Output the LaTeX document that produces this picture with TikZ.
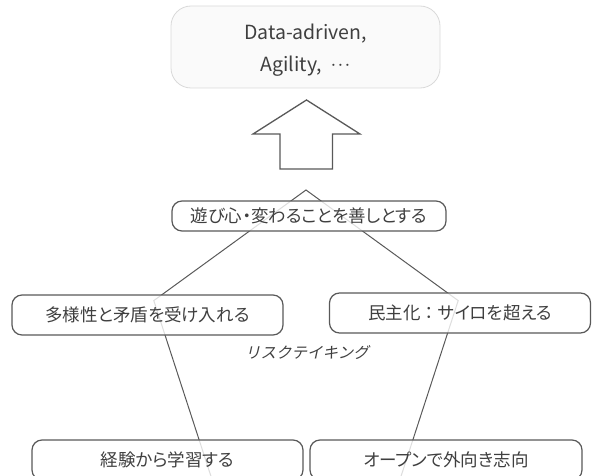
\documentclass[tikz,border=0pt]{standalone}
\usepackage{fontspec}
\setmainfont{Noto Sans CJK JP}
\newfontfamily\paltcjk[RawFeature=+palt]{Noto Sans CJK JP}
\newfontfamily\slantcjk[FakeSlant=0.22]{Noto Sans CJK JP}
\definecolor{edge}{HTML}{595959}
\definecolor{txt}{HTML}{3F3F3F}
\tikzset{
  box/.style={draw=edge, line width=1.2pt, rounded corners=10pt, fill=white,
    fill opacity=0.8, text opacity=1, text=txt,
    font=\paltcjk\fontsize{17.5}{20}\selectfont, inner sep=0pt},
  pent/.style={draw=edge, line width=1pt},
  goaltext/.style={font=\fontsize{19.5}{22}\selectfont, text=txt, anchor=base, inner sep=0pt},
}
\begin{document}
\begin{tikzpicture}[x=1pt,y=-1pt]
\useasboundingbox (0,0) rectangle (592,476);
\clip (0,0) rectangle (592,476);
% goal box
\node[draw=black!15, line width=0.8pt, fill=black!2, rounded corners=20pt,
  minimum width=269pt, minimum height=82pt, inner sep=0pt] (goal) at (305.5,47) {};
\node[goaltext] (g1) at (305.5,40) {Data-adriven,};
\node[goaltext] (g2) at (305.5,72) {Agility,\hspace{0.45em}\raisebox{0.1ex}{$\cdot\mkern-3mu\cdot\mkern-3mu\cdot$}};
% up arrow
\draw[edge, line width=1.3pt, fill=white, line join=miter]
  (306.5,100) -- (253,134) -- (280,134) -- (280,169) -- (332.5,169)
  -- (332.5,134) -- (360,134) -- cycle;
% pentagon
\coordinate (pT) at (306,190);
\coordinate (pL) at (153.8,300.6);
\coordinate (pR) at (458.2,300.6);
\coordinate (pBL) at (212,479.4);
\coordinate (pBR) at (400,479.4);
\draw[pent] (pT) -- (pR) -- (pBR) -- (pBL) -- (pL) -- cycle;
% boxes
\node[box, minimum width=274pt, minimum height=30pt] (play) at (309,216) {遊び心・変わることを善しとする};
\node[box, minimum width=271pt, minimum height=40pt] (div) at (147.5,315) {多様性と矛盾を受け入れる};
\node[box, minimum width=261pt, minimum height=40pt] (dem) at (460,313) {民主化{\rmfamily\fontsize{17.5}{20}\selectfont ：}サイロを超える};
\node[box, minimum width=271pt, minimum height=40pt] (exp) at (167.5,460) {経験から学習する};
\node[box, minimum width=272pt, minimum height=40pt] (open) at (446,460) {オープンで外向き志向};
\node[font=\slantcjk\fontsize{15.5}{18}\selectfont, text=txt, inner sep=0pt] (risk) at (307,353) {リスクテイキング};
\end{tikzpicture}
\end{document}
